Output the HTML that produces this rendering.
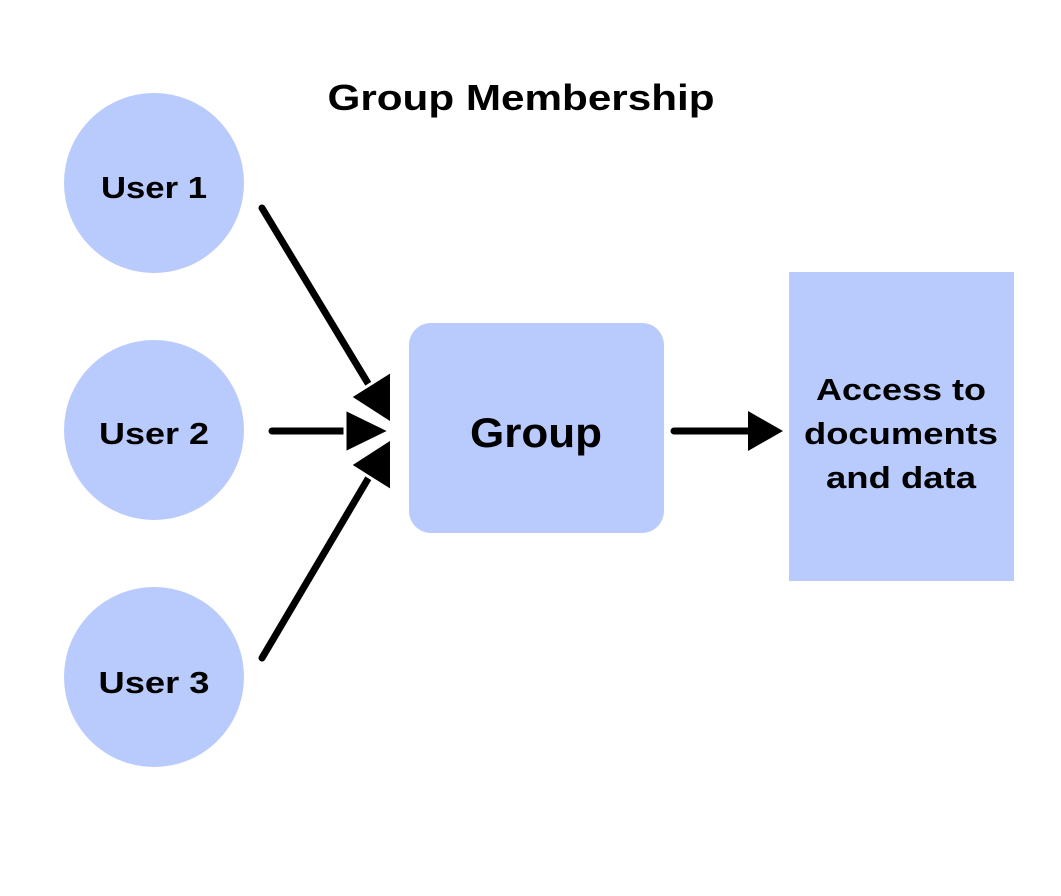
<!DOCTYPE html>
<html><head><style>html,body{margin:0;padding:0;background:#fff;}</style></head>
<body>
<svg width="1061" height="891" viewBox="0 0 1061 891" xmlns="http://www.w3.org/2000/svg" font-family="Liberation Sans, Arial, sans-serif" font-weight="bold">
<rect width="1061" height="891" fill="#fff"/>
<text x="521" y="110" text-anchor="middle" font-size="36" textLength="387" lengthAdjust="spacingAndGlyphs">Group Membership</text>
<g fill="#b9cafc">
<circle cx="154" cy="183" r="90"/>
<circle cx="154" cy="430" r="90"/>
<circle cx="154" cy="677" r="90"/>
<rect x="409" y="323" width="255" height="210" rx="22"/>
<rect x="789" y="272" width="225" height="309"/>
</g>
<g font-size="31" text-anchor="middle">
<text x="154" y="198" textLength="106" lengthAdjust="spacingAndGlyphs">User 1</text>
<text x="154" y="444" textLength="110" lengthAdjust="spacingAndGlyphs">User 2</text>
<text x="154" y="693" textLength="111" lengthAdjust="spacingAndGlyphs">User 3</text>
<text x="536" y="447" font-size="42" textLength="132" lengthAdjust="spacingAndGlyphs">Group</text>
<text x="901" y="400" textLength="170" lengthAdjust="spacingAndGlyphs">Access to</text>
<text x="901" y="444" textLength="194" lengthAdjust="spacingAndGlyphs">documents</text>
<text x="901" y="488" textLength="150" lengthAdjust="spacingAndGlyphs">and data</text>
</g>
<g stroke="#000" stroke-width="7" stroke-linecap="round">
<line x1="262" y1="208" x2="372" y2="390"/>
<line x1="262" y1="658" x2="372" y2="472"/>
<line x1="272" y1="431" x2="350" y2="431"/>
<line x1="674" y1="431" x2="750" y2="431"/>
</g>
<defs><clipPath id="c"><rect x="0" y="0" width="390" height="891"/></clipPath></defs>
<g clip-path="url(#c)" stroke="#fff" stroke-width="3" stroke-linejoin="miter">
<polygon points="398,428 393,370 350,397"/>
<polygon points="398,434 393,492 350,465"/>
<polygon points="345,409 345,453 390,431"/>
</g>
<polygon points="748,411 748,451 783,431" fill="#000"/>
</svg>
</body></html>
